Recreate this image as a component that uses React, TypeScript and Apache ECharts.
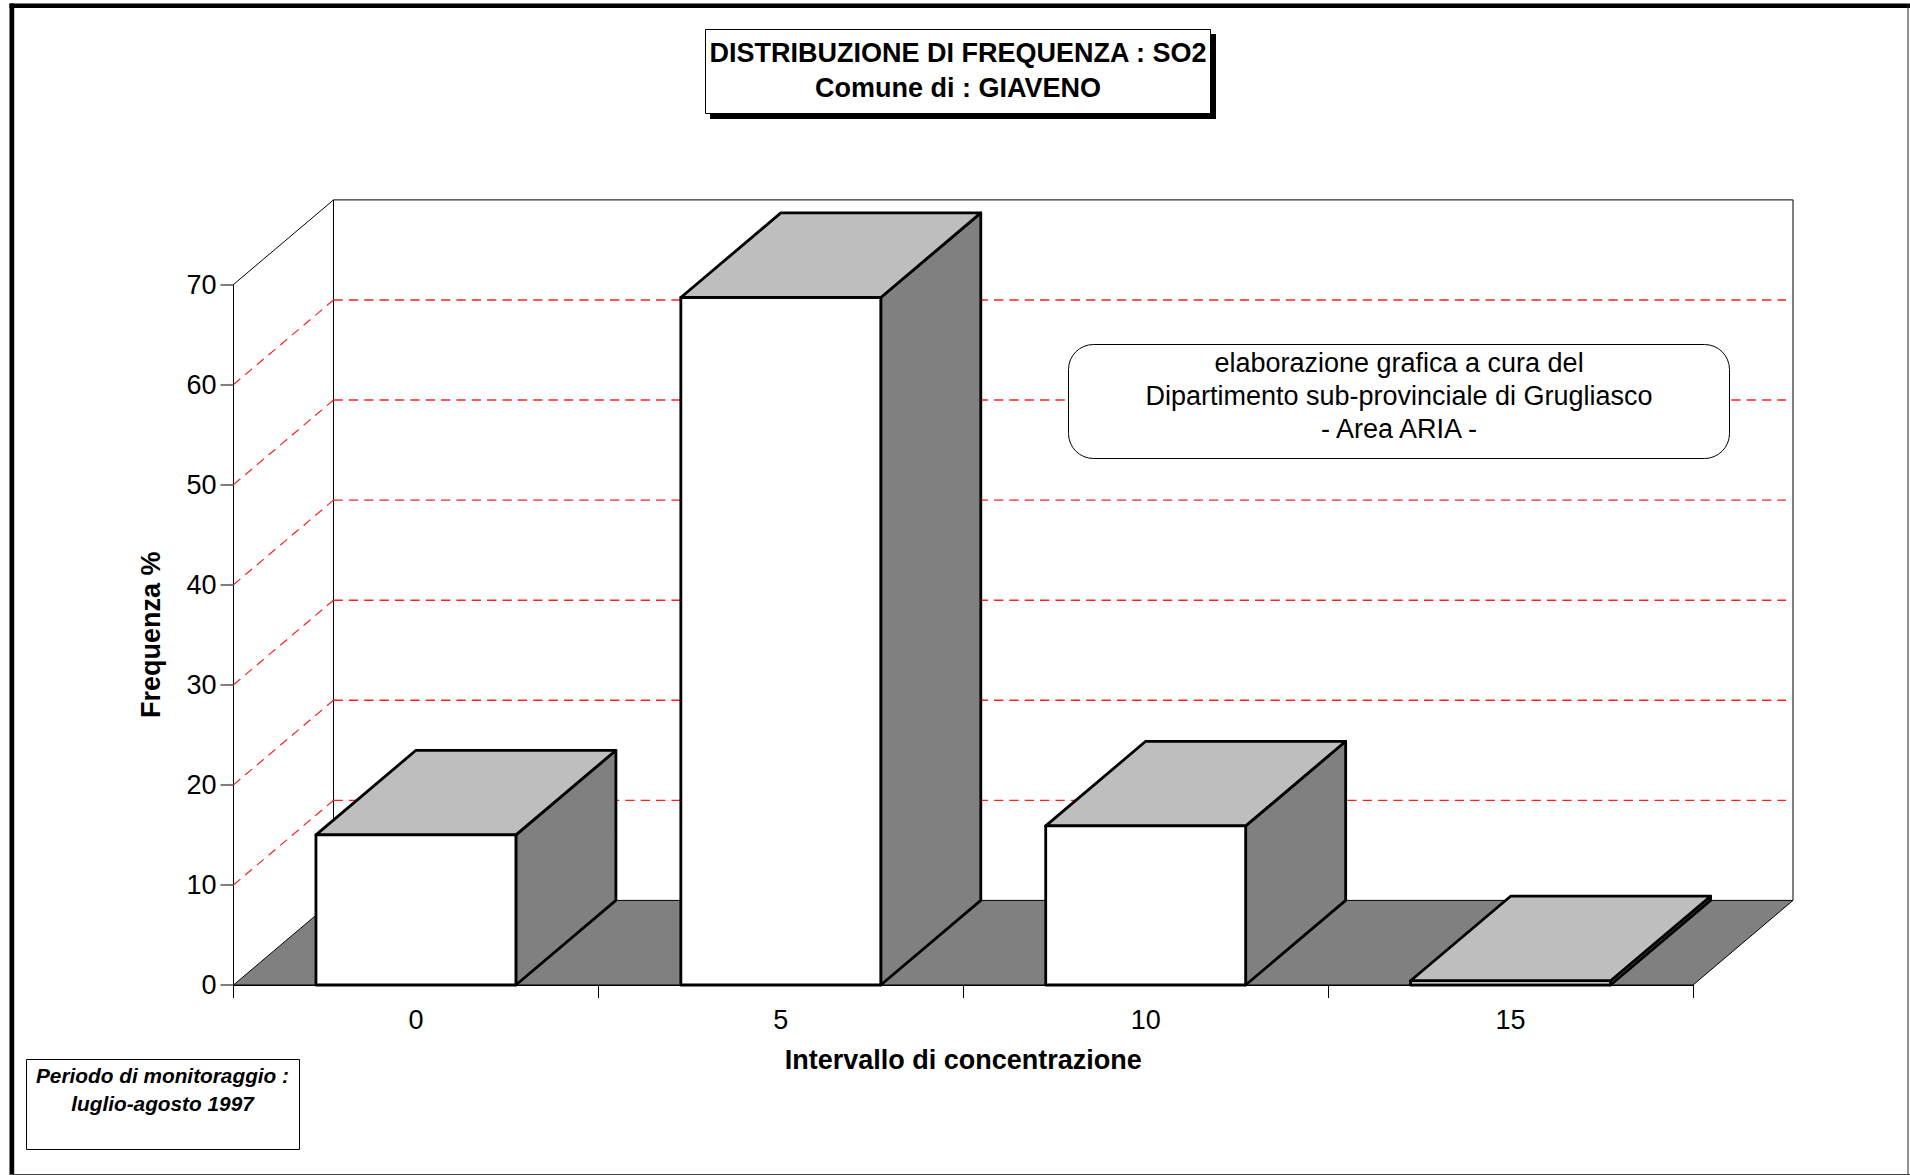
import React, { useEffect, useRef } from "react";
import * as echarts from "echarts";

const categories = ["0", "5", "10", "15"];
const frequencies = [15.0, 68.7, 15.9, 0.42];
const gridTicks = [10, 20, 30, 40, 50, 60];
const yMax = 70;
const titleLines = ["DISTRIBUZIONE DI FREQUENZA : SO2", "Comune di : GIAVENO"];
const creditLines = ["elaborazione grafica a cura del", "Dipartimento sub-provinciale di Grugliasco", "- Area ARIA -"];
const periodLines = ["Periodo di monitoraggio :", "luglio-agosto 1997"];
const xName = "Intervallo di concentrazione";
const yName = "Frequenza %";

const DX = 100;
const DY = 84.6;
const FONT = "'Liberation Sans', Arial, sans-serif";

function poly(points: number[][], style: any) {
  return { type: "polygon", shape: { points }, style };
}
function pline(points: number[][], style: any) {
  return { type: "polyline", shape: { points }, style: { fill: "none", ...style } };
}

function renderFrame(params: any, api: any) {
  const cs = params.coordSys;
  const l = cs.x, r = cs.x + cs.width, t = cs.y, b = cs.y + cs.height;
  const thin = { stroke: "#000", lineWidth: 1 };
  return {
    type: "group",
    children: [
      poly([[l, b], [l + DX, b - DY], [r + DX, b - DY], [r, b]], { fill: "#808080", ...thin }),
      pline([[l + DX, b - DY], [l + DX, t - DY], [r + DX, t - DY], [r + DX, b - DY]], thin),
      pline([[l, t], [l + DX, t - DY]], thin),
    ],
  };
}

function renderGridLine(params: any, api: any) {
  const cs = params.coordSys;
  const y = api.coord([0, api.value(1)])[1];
  const l = cs.x;
  const r = cs.x + cs.width + DX - 7;
  const red = { stroke: "#ff2020", lineWidth: 1.4 };
  return {
    type: "group",
    children: [
      pline([[l, y], [l + DX, y - DY]], { ...red, lineWidth: 1.2, lineDash: [9, 6.3] }),
      pline([[l + DX, y - DY], [r, y - DY]], { ...red, lineDash: [9.3, 6.06] }),
    ],
  };
}

function renderBar(params: any, api: any) {
  const cat = api.value(0);
  const top = api.coord([cat, api.value(1)]);
  const base = api.coord([cat, 0]);
  const w = api.size([1, 0])[0] * 0.548;
  const x0 = top[0] - w / 2;
  const x1 = top[0] + w / 2;
  const style = { stroke: "#000", lineWidth: 2.8, lineJoin: "round" };
  return {
    type: "group",
    children: [
      poly([[x1, base[1]], [x1 + DX, base[1] - DY], [x1 + DX, top[1] - DY], [x1, top[1]]], { fill: "#808080", ...style }),
      poly([[x0, top[1]], [x0 + DX, top[1] - DY], [x1 + DX, top[1] - DY], [x1, top[1]]], { fill: "#bebebe", ...style }),
      poly([[x0, base[1]], [x0, top[1]], [x1, top[1]], [x1, base[1]]], { fill: "#ffffff", ...style }),
    ],
  };
}

function text(lines: string[], cx: number, ys: number[], font: any) {
  return lines.map((s, i) => ({
    type: "text",
    z: 101,
    x: cx,
    y: ys[i],
    style: {
      text: s,
      fill: "#000",
      align: "center",
      verticalAlign: "middle",
      fontFamily: FONT,
      ...font,
    },
  }));
}

export default function App() {
  const ref = useRef<HTMLDivElement>(null);
  useEffect(() => {
    document.body.style.margin = "0";
    const chart = echarts.init(ref.current!, undefined, { renderer: "svg" });
    chart.setOption({
      animation: false,
      backgroundColor: "#fff",
      grid: { left: 233.5, right: 217, top: 284.5, bottom: 190 },
      xAxis: {
        type: "category",
        data: categories,
        name: xName,
        nameLocation: "middle",
        nameGap: 61,
        nameTextStyle: { fontFamily: FONT, fontWeight: "bold", fontSize: 27, color: "#000" },
        axisLine: { show: true, lineStyle: { color: "#000", width: 1 } },
        axisTick: { show: true, length: 13, alignWithLabel: false, lineStyle: { color: "#000", width: 1 } },
        axisLabel: { margin: 21, fontFamily: FONT, fontSize: 27, color: "#000" },
        splitLine: { show: false },
      },
      yAxis: {
        type: "value",
        min: 0,
        max: yMax,
        interval: 10,
        name: yName,
        nameLocation: "middle",
        nameGap: 69,
        nameTextStyle: { fontFamily: FONT, fontWeight: "bold", fontSize: 27, color: "#000" },
        axisLine: { show: true, lineStyle: { color: "#000", width: 1 } },
        axisTick: { show: true, length: 13, lineStyle: { color: "#555", width: 1.5 } },
        axisLabel: { margin: 17, padding: [0, 0, 2, 0], fontFamily: FONT, fontSize: 27, color: "#000" },
        splitLine: { show: false },
      },
      series: [
        { type: "custom", silent: true, z: 1, data: [[0, 0]], renderItem: renderFrame },
        { type: "custom", silent: true, z: 2, data: gridTicks.map((t) => [0, t]), renderItem: renderGridLine },
        { type: "custom", silent: true, z: 3, data: frequencies.map((v, i) => [i, v]), renderItem: renderBar },
      ],
      graphic: {
        elements: [
          { type: "rect", z: 100, shape: { x: 9.5, y: 3.5, width: 1900.5, height: 4.5 }, style: { fill: "#000" } },
          { type: "rect", z: 100, shape: { x: 9.5, y: 3.5, width: 4.7, height: 1171.5 }, style: { fill: "#000" } },
          { type: "rect", z: 100, shape: { x: 1907.5, y: 4, width: 1, height: 1171 }, style: { fill: "#222" } },
          { type: "rect", z: 100, shape: { x: 10, y: 1174, width: 1900, height: 1 }, style: { fill: "#444" } },
          { type: "rect", z: 100, shape: { x: 710, y: 34, width: 506, height: 85 }, style: { fill: "#000" } },
          { type: "rect", z: 100, shape: { x: 705.5, y: 29.5, width: 505, height: 84 }, style: { fill: "#fff", stroke: "#000", lineWidth: 1 } },
          ...text(titleLines, 958, [52.5, 88], { fontSize: 27, fontWeight: "bold" }),
          { type: "rect", z: 100, shape: { x: 1068.5, y: 344.5, width: 661, height: 114, r: 25 }, style: { fill: "#fff", stroke: "#000", lineWidth: 1 } },
          ...text(creditLines, 1399, [363, 396, 428.5], { fontSize: 27 }),
          { type: "rect", z: 100, shape: { x: 26.5, y: 1059.5, width: 273, height: 90 }, style: { fill: "#fff", stroke: "#000", lineWidth: 1 } },
          ...text(periodLines, 162.5, [1075.5, 1103.5], { fontSize: 20.8, fontWeight: "bold", fontStyle: "italic" }),
        ],
      },
    });
    return () => chart.dispose();
  }, []);
  return <div ref={ref} style={{ width: 1910, height: 1175 }} />;
}
